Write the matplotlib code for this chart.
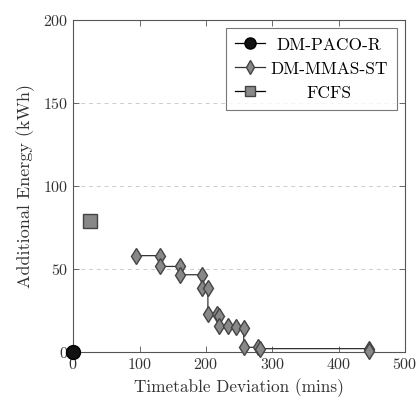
import numpy as np
import matplotlib as mpl
mpl.use("Agg")
import matplotlib.pyplot as plt

mpl.rcParams.update({
    "font.family": "serif", "font.serif": ["cmr10", "DejaVu Serif"],
    "mathtext.fontset": "cm", "axes.formatter.use_mathtext": True,
    "xtick.direction": "in", "ytick.direction": "in",
    "xtick.top": True, "ytick.right": True,
    "axes.linewidth": 0.8,
})

# Pareto fronts
paco_x = [0]
paco_y = [0]
mmas_x = [95, 131, 131, 161, 161, 194, 194, 203, 203, 216, 219, 220, 234, 246, 257, 257, 279, 281, 445, 445]
mmas_y = [58, 58, 51.5, 51.5, 46.5, 46.5, 38.5, 38.5, 23, 23, 21.5, 15.5, 15.5, 15, 14.5, 2.8, 2.8, 2, 2, 0.5]
fcfs_x = [25]
fcfs_y = [79]

fig = plt.figure(figsize=(4.18, 4.05), dpi=100)
ax = fig.add_axes([0.175, 0.131, 0.794, 0.820])

ax.plot(paco_x, paco_y, "o-", color="black", mfc="#111111", mec="black", ms=10, lw=0.9,
        label="DM-PACO-R", zorder=5, clip_on=False)
ax.plot(mmas_x, mmas_y, "d-", color="#333333", mfc="#888888", mec="#444444", ms=8.5, lw=0.9,
        label="DM-MMAS-ST", zorder=4, clip_on=False)
ax.plot(fcfs_x, fcfs_y, "s-", color="black", mfc="#888888", mec="#444444", ms=9.5, lw=0.9,
        label="FCFS", zorder=4)

ax.set_xlim(0, 500)
ax.set_ylim(0, 200)
ax.set_xticks([0, 100, 200, 300, 400, 500])
ax.set_yticks([0, 50, 100, 150, 200])
ax.yaxis.grid(True, linestyle=(0, (4, 4)), color="#cccccc", lw=0.7)
ax.set_axisbelow(True)
ax.tick_params(labelsize=11.5, length=4, width=0.6, colors="#555555", labelcolor="#333333")
for s in ax.spines.values():
    s.set_color("#555555")
ax.set_xlabel("Timetable Deviation (mins)", fontsize=12.4, color="#333333", labelpad=5)
ax.set_ylabel("Additional Energy (kWh)", fontsize=13, color="#333333", labelpad=6)

leg = ax.legend(loc="upper right", fontsize=12.5, fancybox=False, edgecolor="#555555",
                handlelength=1.7, handletextpad=0.3, borderaxespad=0.45, labelspacing=0.5,
                borderpad=0.55, markerscale=0.8)
leg.get_frame().set_linewidth(0.8)

# centre the legend labels like the original
fig.canvas.draw()
r = fig.canvas.get_renderer()
texts = leg.get_texts()
widths = [t.get_window_extent(r).width for t in texts]
wmax = max(widths)
for t, w in zip(texts, widths):
    t.set_x((wmax - w) / 2)

fig.savefig("out.png", dpi=100)
